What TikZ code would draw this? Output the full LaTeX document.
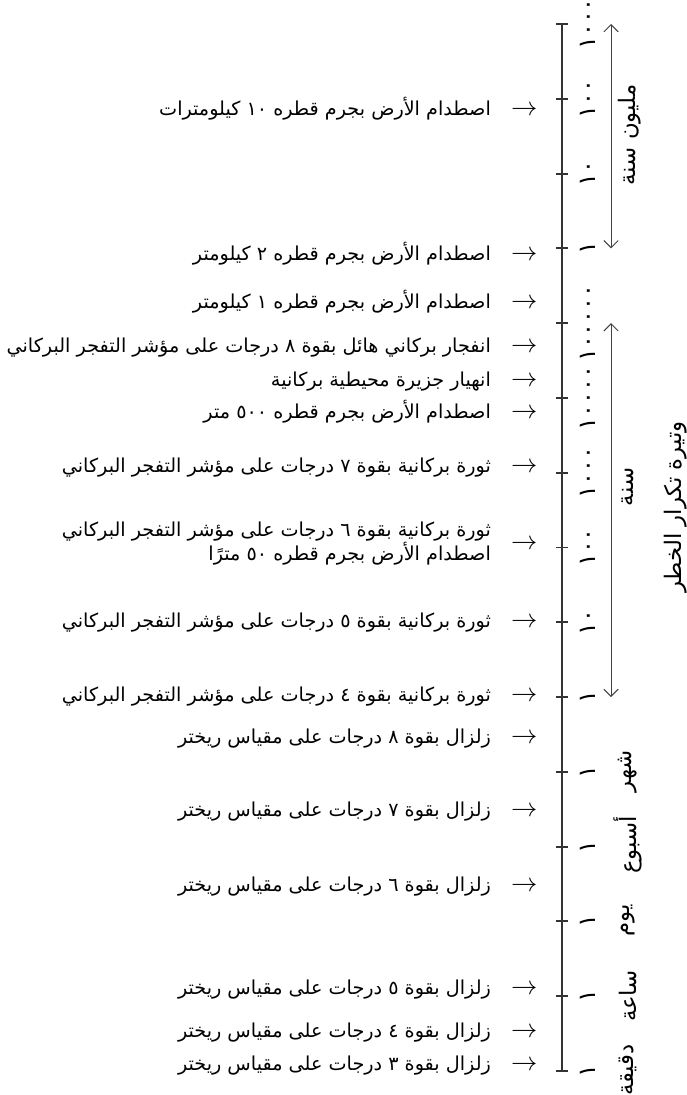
\documentclass[tikz,border=0pt]{standalone}
\usepackage{fontspec}
\newfontfamily\arabicfont[Script=Arabic]{DejaVu Sans}
\TeXXeTstate=1
\usetikzlibrary{arrows.meta, calc}
\newcommand{\artext}[1]{{\arabicfont\fontsize{8}{10}\selectfont\beginR #1\endR}}
\newcommand{\unittext}[1]{{\arabicfont\fontsize{9.5}{11}\selectfont\beginR #1\endR}}
\newcommand{\evarrow}{\hspace{8.5pt}{\fontsize{11}{13}\selectfont$\rightarrow$}}
\tikzset{
  axisline/.style={line width=0.8pt, black!80},
  rangearrow/.style={black!75, line width=0.4pt,
    {Straight Barb[length=3pt,width=6pt]}-{Straight Barb[length=3pt,width=6pt]}},
  ticklabel/.style={rotate=90, inner sep=0pt, font=\arabicfont\fontsize{10}{12}\selectfont},
  unitlabel/.style={rotate=90, inner sep=0pt},
  event/.style={anchor=base east, inner sep=0pt},
}

\begin{document}
\begin{tikzpicture}[x=0.4167pt, y=-0.4167pt]
  \useasboundingbox (0,0) rectangle (687,1095);

  % axis with ticks, bottom tick = 0
  \foreach \i/\lab in {0/١, 1/١, 2/١, 3/١, 4/١, 5/١, 6/١٠, 7/١٠٠, 8/١٠٠٠,
      9/١٠٠٠٠, 10/١٠٠٠٠٠, 11/١, 12/١٠, 13/١٠٠, 14/١٠٠٠} {
    \coordinate (t\i) at (562, {1071-\i*74.786});
    \coordinate (r\i) at (611, {1071-\i*74.786});
    \draw[axisline] ($(t\i)+(-6,0)$) -- ($(t\i)+(6,0)$);
    \node[ticklabel] (lab\i) at ($(t\i)+(26,0)$) {\lab};
  }
  \draw[axisline] (t0) -- (t14);

  % units
  \node[unitlabel] (minute) at (628,1070) {\unittext{دقيقة}};
  \node[unitlabel] (hour)   at (628,996)  {\unittext{ساعة}};
  \node[unitlabel] (day)    at (628,920)  {\unittext{يوم}};
  \node[unitlabel] (week)   at (628,845)  {\unittext{أسبوع}};
  \node[unitlabel] (month)  at (628,771)  {\unittext{شهر}};

  \draw[rangearrow] (r14) -- (r11);
  \node[unitlabel] (myear) at (630,135) {\unittext{مليون سنة}};
  \draw[rangearrow] (r10) -- (r5);
  \node[unitlabel] (year) at (628,487) {\unittext{سنة}};

  \node[unitlabel] (freq) at (676,507) {\unittext{وتيرة تكرار الخطر}};

  % events
  \node[event] (imp10km) at (538,116) {\artext{اصطدام الأرض بجرم قطره ١٠ كيلومترات}\evarrow};
  \node[event] (imp2km) at (538,261) {\artext{اصطدام الأرض بجرم قطره ٢ كيلومتر}\evarrow};
  \node[event] (imp1km) at (538,309) {\artext{اصطدام الأرض بجرم قطره ١ كيلومتر}\evarrow};
  \node[event] (vei8) at (538,353) {\artext{انفجار بركاني هائل بقوة ٨ درجات على مؤشر التفجر البركاني}\evarrow};
  \node[event] (island) at (538,387) {\artext{انهيار جزيرة محيطية بركانية}\evarrow};
  \node[event] (imp500m) at (538,419) {\artext{اصطدام الأرض بجرم قطره ٥٠٠ متر}\evarrow};
  \node[event] (vei7) at (538,472) {\artext{ثورة بركانية بقوة ٧ درجات على مؤشر التفجر البركاني}\evarrow};
  \node[event] (vei6) at (538,549) {\begin{tabular}{@{}r@{}}\artext{ثورة بركانية بقوة ٦ درجات على مؤشر التفجر البركاني}\\[-2pt]
      \artext{اصطدام الأرض بجرم قطره ٥٠ مترًا}\end{tabular}\evarrow};
  \node[event] (vei5) at (538,627) {\artext{ثورة بركانية بقوة ٥ درجات على مؤشر التفجر البركاني}\evarrow};
  \node[event] (vei4) at (538,701) {\artext{ثورة بركانية بقوة ٤ درجات على مؤشر التفجر البركاني}\evarrow};
  \node[event] (rich8) at (538,743) {\artext{زلزال بقوة ٨ درجات على مقياس ريختر}\evarrow};
  \node[event] (rich7) at (538,816) {\artext{زلزال بقوة ٧ درجات على مقياس ريختر}\evarrow};
  \node[event] (rich6) at (538,891) {\artext{زلزال بقوة ٦ درجات على مقياس ريختر}\evarrow};
  \node[event] (rich5) at (538,994) {\artext{زلزال بقوة ٥ درجات على مقياس ريختر}\evarrow};
  \node[event] (rich4) at (538,1037) {\artext{زلزال بقوة ٤ درجات على مقياس ريختر}\evarrow};
  \node[event] (rich3) at (538,1070) {\artext{زلزال بقوة ٣ درجات على مقياس ريختر}\evarrow};
\end{tikzpicture}
\end{document}
